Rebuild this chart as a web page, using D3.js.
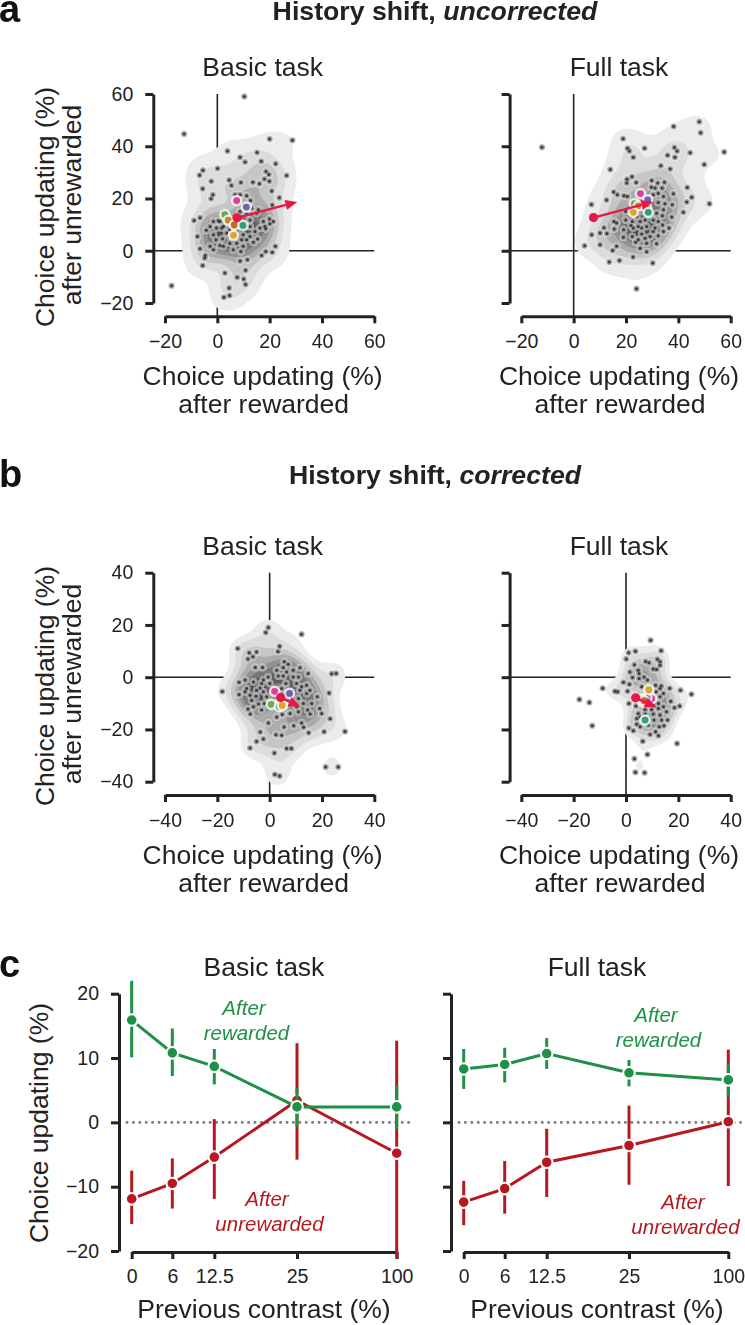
<!DOCTYPE html>
<html><head><meta charset="utf-8">
<script src="https://cdn.jsdelivr.net/npm/d3@7"></script>
<style>
html,body{margin:0;padding:0;background:#fff}
svg{display:block}
text{font-family:"Liberation Sans",Arial,sans-serif;fill:#222}
</style></head><body><svg id="c" width="745" height="1325"></svg>
<script>
// ---------- DATA ----------
const uncorrectedBasic=[[10.3,59],[-12.7,44.7],[28.7,42.3],[20,42.8],[-17.5,-13.4],[3.9,38.2],[15.2,37.6],[8.7,35.8],[10.6,34],[16.8,34.3],[22.3,33.3],[0.1,31.5],[-5.5,30.8],[-6.8,28.9],[26.5,28.8],[18.6,30.3],[19.7,29.2],[18,27.5],[19.9,26.6],[-2.3,26.6],[4.5,27.1],[5.4,25],[9,26.1],[13.6,26.2],[16.1,25.6],[-5.6,23.7],[20.8,22.9],[-1.7,21.4],[-2.4,19.9],[6.8,21.4],[8.7,21.4],[11.2,21.1],[12.7,19.2],[23.7,20.3],[21,17.5],[-6.6,12.6],[-8.9,11.6],[0.4,11.5],[2.3,9.3],[4.8,10.6],[12.5,11.8],[15,14.4],[17.6,11.2],[19.9,12.2],[21.4,11.2],[20.1,10.3],[18.2,9.3],[18.5,8.4],[-4.2,7.8],[-7.6,5.5],[-1.5,6.1],[-0.5,4.2],[2,4.6],[4.8,5.5],[7.4,2.9],[9.9,6.1],[13.8,3.3],[15.4,4.5],[-2.8,1.7],[1,2],[4.8,2.9],[9,-0.3],[-6.6,0.8],[-4.6,-1.8],[-4.8,-2.8],[-5.6,-5.6],[8.7,-3.9],[11.5,-3.4],[16.9,-1.8],[18.5,-0.3],[21,-0.6],[22.2,1.7],[2.9,-8.5],[10.8,-7.5],[7.6,-10.1],[10.1,-10.8],[10.8,-12.9],[4.5,-14.3],[4.7,-17.1],[2.5,-17.8],[11.2,4.2],[12.5,9.3],[1.7,8.7],[-0.3,8.7],[3.6,6.8],[9.3,4.2],[11.2,9.3],[14.4,7.4],[-1.5,0.4],[6.1,0.4],[11.2,14.4],[13.1,16.3],[15.7,15.7],[7.4,7.4],[4.8,8],[8.7,15],[1,11.2],[-1.5,11.2],[9.9,1.7],[6.1,4.2],[2.3,1.7],[12.5,5.5],[-2.8,9.3],[16.3,8.7]];
const uncorrectedFull=[[-12.1,39.6],[24,-14.5],[38.2,47.6],[48,49.4],[48.5,45.2],[57.5,37.8],[49.9,33],[51.9,18],[18.9,42.9],[27.1,39.2],[20.6,39.2],[21.3,38.2],[22.8,35.8],[38.5,39.5],[39.5,38.2],[35.9,36.6],[38.7,35.8],[44.5,37.5],[14,31.1],[33.3,32.5],[36.9,31.3],[43.4,24.2],[45.1,20.5],[43.2,18.7],[41.9,14.7],[20.4,27.4],[22.3,28.3],[20.3,25.9],[23.9,26.1],[29.8,26.9],[32.1,25.9],[34.7,26.2],[29.7,24.3],[31.1,24],[33.8,24],[32.3,22],[38.1,21.8],[15.3,22.5],[16.7,21.4],[19.2,21.1],[20.5,20.8],[12.6,19.4],[6.8,17.7],[32.3,18.5],[34.9,18],[37.7,17.6],[34.3,15.7],[37.5,12.9],[33.9,13.4],[19.9,15],[19.9,11.8],[22.4,11.2],[24.1,13.1],[27.3,11.8],[30.4,11.8],[34,9.9],[36.4,8.7],[15.4,11.2],[16.4,10.6],[11.6,8.8],[15.5,8.3],[10.1,6.8],[12.7,6.6],[6.9,6.1],[19.1,8],[21.9,9.7],[24.7,9.3],[27.9,9.3],[31.1,8.7],[19,5.2],[22.4,5.5],[26,6.4],[29.2,5.5],[32.3,5.7],[34.3,7.4],[23.7,3.3],[27.9,2.9],[31.7,2.7],[4.2,1.9],[10.1,2.3],[16.4,1.7],[14.9,0.1],[25.4,1],[27.9,-0.4],[22.7,-2.4],[13.6,-4.3],[17.5,-3.7],[30.2,-4.7],[24.1,16.9],[26.6,15],[31.7,14.4],[22.8,8.7],[25.4,11.2],[29.2,13.8],[32.3,11.2],[26,8.7],[27.3,4.8],[24.7,4.2],[30.4,7.4],[21.5,15],[34.3,20.8],[30.4,21.4]];
const correctedBasic=[[-0.5,19],[-1.5,17.1],[12.2,16.4],[-12.2,11],[-7.8,9.4],[-5,9.6],[-6.4,7.8],[-8.3,7],[3.8,11.8],[3.2,9.8],[-5.5,3.7],[-2.7,3.7],[5.6,5.9],[7.1,5],[11.6,3.6],[5.2,3.7],[9,2.7],[14.7,1.4],[23.7,1.3],[25.4,1.4],[-0.6,0.1],[3.3,0.5],[5.2,0.5],[9,0.1],[-6.2,-1.8],[-11.7,-1.9],[-18.1,-5.5],[-11.7,-6.6],[-3.7,-4.1],[0.1,-2.4],[6.2,-2.4],[12.2,-3.7],[14.1,-3.1],[22.7,-6],[18.2,-7.5],[14.1,-6.2],[11,-8.2],[-7.5,-6.9],[-5.2,-7.3],[-6.9,-8.8],[-4.3,-10.3],[-2,-10.1],[-8.3,-12.2],[-7.4,-14.1],[11,-13.2],[14.5,-12.6],[15.5,-14.1],[19.1,-12],[19.9,-13.9],[23.1,-15.9],[4.8,-14.3],[-0.5,-17.5],[5.5,-19.1],[9.2,-18.6],[12.2,-17.5],[13,-19.2],[14.9,-21.3],[20.8,-20.9],[28.8,-20.8],[-3.6,-21],[2.4,-22],[4.6,-22.2],[-2.4,-23.7],[-5,-24.6],[-7.5,-27.1],[6.5,-27.3],[8.3,-27.3],[1.8,-29],[21.4,-34.4],[26.2,-34.4],[2,-37.2],[3.8,-37.8],[-8.8,-4.3],[-9.4,-5.6],[-2.4,-5.6],[-1.1,-7.5],[-5,-5],[-3.1,-2.4],[2.7,2.7],[10.3,-2.4],[11.6,-5],[16.1,-10.1],[12.9,-10.1],[10.3,-11.3],[7.8,-13.9],[2.7,-15.2],[-6.2,-11.3],[-3.1,-12.6],[15.4,-5],[4.6,-4.3],[11,0.1],[6.5,2],[-2.4,-1.1],[-9.4,-1.1]];
const correctedFull=[[9.4,14.1],[1,9.4],[3.6,9.9],[13.4,10.1],[0.1,7],[7.5,6],[8.8,5.5],[12,6.9],[13,5.9],[13,4.6],[3.2,4.8],[10.4,3.1],[11.7,2.9],[1.5,2],[4.7,2.7],[5,1.4],[2.5,-0.1],[5,-0.5],[6.9,0.1],[8.2,-1.1],[-1,-1.9],[1.3,-2.7],[-8.9,-4.2],[-4.2,-5.4],[-3.2,-5.6],[0.6,-5.4],[6,-3.7],[11.3,-3.1],[13.5,-3.4],[16.7,-4.2],[20.8,-5],[25,-6.5],[14.3,-6.2],[11.5,-5.6],[13,-7.5],[-17.8,-8.5],[-14,-9.7],[1.1,-10.1],[17.1,-9.2],[20.5,-11],[18.5,-11.7],[3.8,-11],[12.4,-10.1],[14.3,-11.3],[7.3,-12.4],[9.8,-12.4],[4.7,-13.9],[7.3,-14.1],[10.4,-14.1],[13,-14.5],[4.1,-15.8],[10.7,-16.4],[15.9,-16.4],[-12.9,-18.6],[1.1,-19.4],[4.1,-18],[2.8,-20.5],[12.7,-19],[14.5,-18.6],[11.3,-20.9],[9.2,-21.9],[12.4,-22.4],[6.4,-24.5],[19.5,-25.4],[8.2,-29.6],[3.2,-31.2],[3.6,-36.4],[7.1,-36.6],[7.9,-6.2],[5.4,-15.2],[10.4,-10.7],[8.5,-18.3],[5.4,-19],[12.4,-12],[13.6,-16.4],[15.5,-13.2],[13,-4.3],[9.2,-3.7]];

const labColors=["#d9409a","#6c63ad","#6aa84f","#b98a32","#d0622e","#2ea07c","#d9a632"];
const labsUncorrectedBasic=[[7.4,19.2],[11.1,16.7],[2.9,13.8],[4.2,11.7],[6.5,9.9],[9.8,9.7],[6.2,5.9]];
const labsUncorrectedFull=[[25.5,21.9],[28.3,19.5],[23.2,18],[24.7,17.2],[27.9,16.3],[28.5,14.7],[22.8,14.7]];
const labsCorrectedBasic=[[1.9,-5.4],[7.6,-6.2],[0.6,-10.4],[4.2,-9.4],[5,-10],[3.7,-11.3],[4.8,-10.8]];
const labsCorrectedFull=[[9.8,-8.2],[8,-8],[6,-8.5],[6.5,-9.5],[7,-9],[7.3,-16.4],[8.7,-4.8]];

const arrowUncorrectedBasic=[[7.5,12.6],[30.6,18.7]];
const arrowUncorrectedFull=[[7.6,12.7],[30.4,18.7]];
const arrowCorrectedBasic=[[4.2,-7.8],[11.8,-11.3]];
const arrowCorrectedFull=[[3.7,-7.9],[11.7,-11.5]];

const contrastLevels=[0,6,12.5,25,100];
const contrastTicks=["0","6","12.5","25","100"];
const basicRewarded=[15.9,10.8,8.7,2.4,2.4];
const basicRewardedHi=[22,14.6,11.4,5.3,5.8];
const basicRewardedLo=[10.1,7.2,5.9,-0.7,-1.1];
const basicUnrewarded=[-11.9,-9.5,-5.4,3.4,-4.8];
const basicUnrewardedHi=[-7.5,-5.6,0.5,12.3,12.7];
const basicUnrewardedLo=[-15.8,-13.4,-11.9,-5.8,-21.2];
const fullRewarded=[8.3,9,10.7,7.7,6.6];
const fullRewardedHi=[11.4,11.6,13.1,9.7,9];
const fullRewardedLo=[5.2,6.2,8.3,5.6,3.9];
const fullUnrewarded=[-12.4,-10.3,-6.2,-3.6,0.1];
const fullUnrewardedHi=[-9.1,-6,-1,2.6,11.3];
const fullUnrewardedLo=[-16,-14.2,-11.6,-9.7,-9.9];

// ---------- DRAWING ----------
const svg=d3.select("#c");
const INK="#222", GREEN="#1f9146", RED="#b5191f", CRIMSON="#e8174a";
const defs=svg.append("defs");
defs.append("filter").attr("id","soft").attr("x","-20%").attr("y","-20%").attr("width","140%").attr("height","140%")
  .append("feGaussianBlur").attr("stdDeviation",0.75);
const shades=["#ececec","#dcdcdc","#c6c6c6","#acacac","#929292","#787878","#5e5e5e","#484848"];
const LABEL=26.5;

function styleAxis(g,labels){
  g.select(".domain").attr("stroke",INK).attr("stroke-width",3);
  g.selectAll(".tick line").attr("stroke",INK).attr("stroke-width",3);
  g.selectAll(".tick text").attr("font-size",19.5).attr("fill",INK);
  if(!labels) g.selectAll(".tick text").remove();
}
function fmt(d){return d<0?"\u2212"+(-d):""+d;}
function label(x,y,t,s){return svg.append("text").attr("x",x).attr("y",y).attr("text-anchor","middle").attr("font-size",s).text(t);}
function vlabel(x,y,t,s){svg.append("text").attr("transform",`translate(${x},${y}) rotate(-90)`).attr("text-anchor","middle").attr("font-size",s).text(t);}

function scatter(o){
  const x=d3.scaleLinear().domain(o.xd).range(o.xr);
  const y=d3.scaleLinear().domain(o.yd).range(o.yr);
  const g=svg.append("g");
  const axY=o.xr[0]-11.7, axX=o.yr[0]+13.3;
  g.append("line").attr("x1",axY).attr("x2",o.xr[1]).attr("y1",y(0)).attr("y2",y(0)).attr("stroke",INK).attr("stroke-width",1.6);
  g.append("line").attr("x1",x(0)).attr("x2",x(0)).attr("y1",o.yr[1]).attr("y2",axX).attr("stroke",INK).attr("stroke-width",1.6);
  const dens=d3.contourDensity().x(d=>x(d[0])).y(d=>y(d[1])).size([745,1325]).cellSize(2).bandwidth(o.bw);
  const peak=d3.max(dens.thresholds(40)(o.pts),c=>c.value);
  const conts=dens.thresholds(o.levels.map(f=>f*peak))(o.pts);
  g.append("g").attr("filter","url(#soft)").selectAll("path").data(conts).join("path").attr("d",d3.geoPath()).attr("fill",(d,i)=>shades[i]).attr("stroke","none");
  const pg=g.append("g").attr("filter","url(#soft)");
  const dots=(cls,r,fill,op)=>pg.selectAll("circle."+cls).data(o.pts).join("circle").attr("class",cls)
    .attr("cx",d=>x(d[0])).attr("cy",d=>y(d[1])).attr("r",r).attr("fill",fill).attr("opacity",op);
  dots("h",4,"#f4f4f4",0.5);
  dots("r",3,"#9a9a9a",0.85);
  dots("c",1.5,"#3a3a3a",1);
  g.append("g").attr("filter","url(#soft)").selectAll("circle.l").data(o.labs).join("circle").attr("class","l").attr("cx",d=>x(d[0])).attr("cy",d=>y(d[1])).attr("r",4.6)
    .attr("fill",(d,i)=>labColors[i]).attr("stroke","#fff").attr("stroke-opacity",.8).attr("stroke-width",2.4);
  const [a,b]=o.arrow;
  const x0=x(a[0]),y0=y(a[1]),x1=x(b[0]),y1=y(b[1]);
  const ang=Math.atan2(y1-y0,x1-x0), L=12, W=5;
  const bx=x1-L*Math.cos(ang), by=y1-L*Math.sin(ang);
  g.append("line").attr("x1",x0).attr("y1",y0).attr("x2",bx).attr("y2",by).attr("stroke",CRIMSON).attr("stroke-width",2.4);
  g.append("path").attr("d",d3.line()([[x1,y1],[bx-W*Math.sin(ang),by+W*Math.cos(ang)],[bx+W*Math.sin(ang),by-W*Math.cos(ang)]])+"Z").attr("fill",CRIMSON);
  g.append("circle").attr("cx",x0).attr("cy",y0).attr("r",4.6).attr("fill",CRIMSON);
  const ax=g.append("g").attr("transform",`translate(0,${axX})`).call(d3.axisBottom(x).tickValues(o.xt).tickFormat(fmt).tickSize(7).tickSizeOuter(0).tickPadding(11));
  styleAxis(ax,true);
  const ay=g.append("g").attr("transform",`translate(${axY},0)`).call(d3.axisLeft(y).tickValues(o.yt).tickFormat(fmt).tickSize(8).tickSizeOuter(0).tickPadding(12));
  styleAxis(ay,o.yLabels);
  const cx=(o.xr[0]+o.xr[1])/2-7;
  label(cx,axX+69,"Choice updating (%)",LABEL);
  label(cx+1,axX+97,"after rewarded",LABEL);
  label(cx,o.yr[1]-18,o.title,LABEL);
  if(o.yLabels){
    vlabel(54,o.labelY,"Choice updating (%)",LABEL);
    vlabel(81,o.labelY-2,"after unrewarded",LABEL);
  }
}

const lvA=[0.07,0.2,0.32,0.44,0.56,0.68,0.8,0.9];
const lvF=[0.075,0.2,0.32,0.44,0.56,0.68,0.8,0.9];
const lvC=[0.105,0.2,0.32,0.44,0.56,0.68,0.8,0.9];
const lvD=[0.21,0.36,0.5,0.64,0.78,0.9];
const cfgA={xd:[-20,60],yd:[-20,60],yr:[303,94],xt:[-20,0,20,40,60],yt:[-20,0,20,40,60],labelY:207};
const cfgB={xd:[-40,40],yd:[-40,40],yr:[781.7,572.7],xt:[-40,-20,0,20,40],yt:[-40,-20,0,20,40],labelY:686};
scatter({...cfgA,xr:[165,374.3],pts:uncorrectedBasic,labs:labsUncorrectedBasic,arrow:arrowUncorrectedBasic,title:"Basic task",yLabels:true,bw:11,levels:lvA});
scatter({...cfgA,xr:[521.3,730.7],pts:uncorrectedFull,labs:labsUncorrectedFull,arrow:arrowUncorrectedFull,title:"Full task",yLabels:false,bw:11.5,levels:lvF});
scatter({...cfgB,xr:[165,374.3],pts:correctedBasic,labs:labsCorrectedBasic,arrow:arrowCorrectedBasic,title:"Basic task",yLabels:true,bw:10.5,levels:lvC});
scatter({...cfgB,xr:[521.3,730.7],pts:correctedFull,labs:labsCorrectedFull,arrow:arrowCorrectedFull,title:"Full task",yLabels:false,bw:8,levels:lvD});

function contrast(o){
  const x=d3.scaleLinear().domain(contrastLevels).range(o.xr);
  const y=d3.scaleLinear().domain([-20,20]).range([1251,993.7]);
  const g=svg.append("g");
  g.append("line").attr("x1",o.xr[0]-6).attr("x2",o.xr[4]+13.5).attr("y1",y(0)).attr("y2",y(0)).attr("stroke","#808080").attr("stroke-width",2.6).attr("stroke-dasharray","2.6 3.8");
  function series(v,hi,lo,c){
    const s=g.append("g");
    s.selectAll("line.e").data(contrastLevels).join("line").attr("class","e").attr("x1",d=>x(d)).attr("x2",d=>x(d))
      .attr("y1",(d,i)=>y(hi[i])).attr("y2",(d,i)=>y(lo[i])).attr("stroke",c).attr("stroke-width",3);
    s.append("path").datum(v).attr("fill","none").attr("stroke",c).attr("stroke-width",3)
      .attr("d",d3.line().x((d,i)=>x(contrastLevels[i])).y(d=>y(d)));
    s.selectAll("circle").data(v).join("circle").attr("cx",(d,i)=>x(contrastLevels[i])).attr("cy",d=>y(d)).attr("r",5.8)
      .attr("fill",c).attr("stroke","#fff").attr("stroke-width",2);
  }
  const ax=g.append("g").attr("transform","translate(0,1252)").call(d3.axisBottom(x).tickValues(contrastLevels).tickFormat((d,i)=>contrastTicks[i]).tickSize(7).tickSizeOuter(0).tickPadding(10));
  styleAxis(ax,true);
  const ay=g.append("g").attr("transform",`translate(${o.xr[0]-12.7},0)`).call(d3.axisLeft(y).tickValues([-20,-10,0,10,20]).tickFormat(fmt).tickSize(8).tickSizeOuter(0).tickPadding(12));
  styleAxis(ay,o.yLabels);
  series(o.ur,o.urHi,o.urLo,RED);
  series(o.r,o.rHi,o.rLo,GREEN);
  const it=(x,y,t,c)=>svg.append("text").attr("x",x).attr("y",y).attr("text-anchor","middle").attr("font-size",20.5).attr("font-style","italic").style("fill",c).text(t);
  it(o.gx,o.gy,"After",GREEN); it(o.gx+2.5,o.gy+25,"rewarded",GREEN);
  it(o.rx,o.ry,"After",RED); it(o.rx+2.5,o.ry+25,"unrewarded",RED);
  label(o.cx,976,o.title,LABEL);
  label(o.cx,1318,"Previous contrast (%)",LABEL);
}
contrast({xr:[131.7,172.3,214.3,297,396.7],cx:264,title:"Basic task",yLabels:true,r:basicRewarded,rHi:basicRewardedHi,rLo:basicRewardedLo,ur:basicUnrewarded,urHi:basicUnrewardedHi,urLo:basicUnrewardedLo,gx:244,gy:1015,rx:267,ry:1206});
contrast({xr:[463.7,504.7,546.7,629,728.3],cx:597,title:"Full task",yLabels:false,r:fullRewarded,rHi:fullRewardedHi,rLo:fullRewardedLo,ur:fullUnrewarded,urHi:fullUnrewardedHi,urLo:fullUnrewardedLo,gx:656,gy:1022,rx:683,ry:1209});
vlabel(48,1123,"Choice updating (%)",LABEL);

function heading(y,a,b){
  const t=svg.append("text").attr("x",435).attr("y",y).attr("text-anchor","middle").attr("font-size",26.7).attr("font-weight","bold");
  t.append("tspan").text(a); t.append("tspan").attr("font-style","italic").text(b);
}
heading(20,"History shift, ","uncorrected");
heading(484,"History shift, ","corrected");
const letter=(y,t)=>svg.append("text").attr("x",-1).attr("y",y).attr("font-size",38).attr("font-weight","bold").style("fill","#111").text(t);
letter(22,"a");letter(487,"b");letter(977,"c");
</script></body></html>
